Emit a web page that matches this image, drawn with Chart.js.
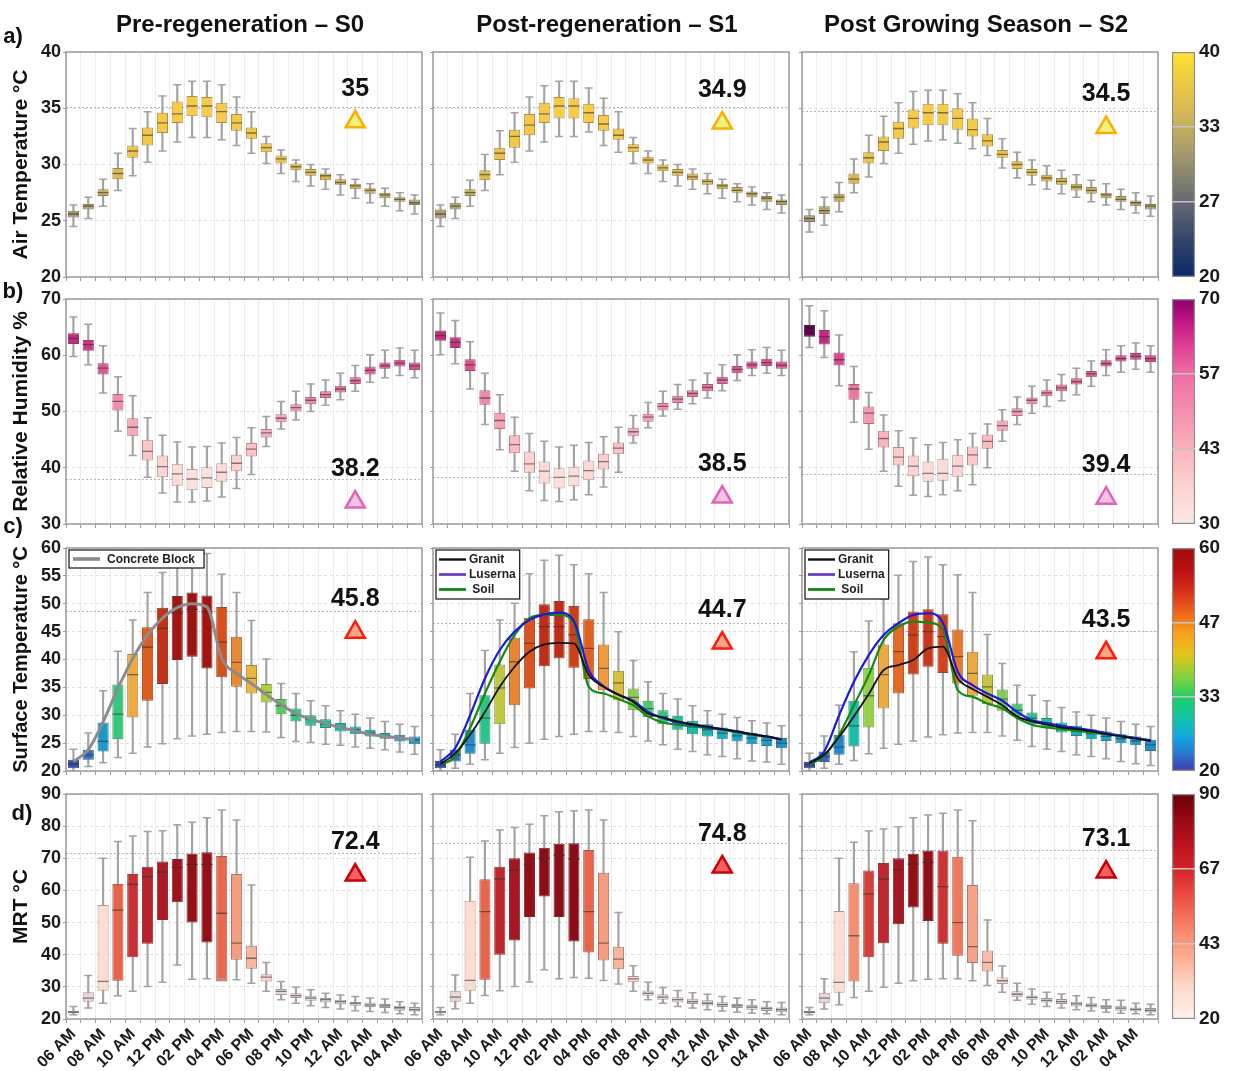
<!DOCTYPE html>
<html>
<head>
<meta charset="utf-8">
<script src="https://cdn.jsdelivr.net/npm/chart.js@4.4.0/dist/chart.umd.min.js"></script>
<style>
  body { margin: 0; background: #fff; width: 1235px; height: 1071px; position: relative; overflow: hidden;
         font-family: 'Liberation Sans', Arial, sans-serif; }
  canvas { position: absolute; }
  .lbl { position: absolute; font-weight: bold; color: #111; white-space: nowrap; transform: translate(-50%, -50%); }
</style>
</head>
<body>
<script>
// ---------- DATA ----------
const HOURS = ['06 AM','07 AM','08 AM','09 AM','10 AM','11 AM','12 PM','01 PM','02 PM','03 PM','04 PM','05 PM',
               '06 PM','07 PM','08 PM','09 PM','10 PM','11 PM','12 AM','01 AM','02 AM','03 AM','04 AM','05 AM'];

// a) air temperature (whisker low, q1, median, q3, whisker high)
const AIR_S0_LO  = [24.5,25.2,26.3,27.7,29.0,30.2,31.2,32.0,32.4,32.4,32.2,31.7,31.0,30.1,29.2,28.5,28.1,27.8,27.3,27.0,26.6,26.3,25.9,25.6];
const AIR_S0_Q1  = [25.3,26.0,27.2,28.7,30.6,31.7,32.8,33.7,34.3,34.2,33.7,33.0,32.3,31.1,30.1,29.5,29.0,28.6,28.2,27.8,27.4,27.0,26.7,26.4];
const AIR_S0_MED = [25.6,26.3,27.5,29.2,31.2,32.6,33.7,34.5,35.2,35.2,34.7,33.7,32.8,31.5,30.5,29.8,29.3,29.0,28.4,28.1,27.7,27.3,26.9,26.6];
const AIR_S0_Q3  = [25.9,26.5,27.8,29.7,31.7,33.3,34.6,35.6,36.1,36.0,35.5,34.5,33.3,31.9,30.8,30.1,29.6,29.2,28.7,28.3,27.9,27.5,27.1,26.9];
const AIR_S0_HI  = [26.4,27.1,28.7,31.0,33.2,34.7,36.1,37.1,37.4,37.4,37.1,36.0,34.7,32.5,31.3,30.4,30.0,29.6,29.1,28.7,28.3,27.9,27.5,27.3];

const AIR_S1_LO  = [24.5,25.2,26.3,27.7,29.1,30.2,31.2,32.0,32.5,32.5,32.9,31.7,31.1,30.1,29.2,28.5,28.1,27.8,27.4,27.0,26.7,26.4,26.0,25.7];
const AIR_S1_Q1  = [25.2,26.0,27.2,28.6,30.4,31.5,32.6,33.7,34.1,34.1,33.7,33.0,32.2,31.1,30.1,29.4,29.0,28.6,28.2,27.8,27.5,27.1,26.7,26.4];
const AIR_S1_MED = [25.6,26.3,27.5,29.1,31.0,32.5,33.5,34.5,35.2,35.2,34.6,33.6,32.6,31.5,30.4,29.7,29.3,28.9,28.5,28.1,27.7,27.4,27.0,26.7];
const AIR_S1_Q3  = [26.0,26.6,27.8,29.5,31.5,33.1,34.5,35.5,36.0,35.9,35.4,34.4,33.2,31.8,30.7,30.0,29.6,29.2,28.7,28.3,28.0,27.6,27.2,26.9];
const AIR_S1_HI  = [26.4,27.1,28.6,30.9,33.0,34.6,36.0,37.0,37.4,37.4,36.8,35.9,34.7,32.4,31.2,30.4,30.0,29.6,29.2,28.7,28.3,28.0,27.5,27.3];

const AIR_S2_LO  = [24.0,24.6,25.8,27.5,28.9,30.1,31.0,31.8,32.1,32.2,31.9,31.4,30.8,29.7,28.8,28.2,27.8,27.4,27.1,26.7,26.4,26.0,25.7,25.4];
const AIR_S2_Q1  = [24.9,25.6,26.7,28.3,30.1,31.2,32.3,33.2,33.5,33.5,33.1,32.5,31.6,30.6,29.6,29.0,28.5,28.2,27.7,27.4,27.0,26.7,26.3,26.0];
const AIR_S2_MED = [25.2,25.9,27.1,28.7,30.6,32.0,33.2,34.1,34.6,34.6,34.1,33.1,32.1,30.9,30.0,29.3,28.8,28.5,28.0,27.7,27.3,26.9,26.6,26.3];
const AIR_S2_Q3  = [25.5,26.3,27.4,29.2,31.1,32.5,33.8,34.9,35.4,35.4,35.0,34.1,32.7,31.3,30.3,29.6,29.1,28.8,28.3,28.0,27.5,27.2,26.8,26.5];
const AIR_S2_HI  = [26.0,27.1,28.4,30.5,32.6,34.3,35.5,36.5,36.6,36.6,36.3,35.5,34.1,32.3,31.1,30.4,29.9,29.5,29.1,28.6,28.3,27.8,27.5,27.2];

// b) relative humidity
const RH_S0_LO  = [59.8,58.3,53.3,46.5,42.2,38.3,35.5,33.9,33.9,34.1,34.8,36.3,38.8,43.8,46.9,48.5,50.0,51.1,52.1,53.6,55.2,56.0,56.4,56.0];
const RH_S0_Q1  = [62.0,60.8,56.6,50.2,45.6,41.3,38.3,36.8,36.0,36.4,37.5,39.4,42.0,45.4,48.1,50.0,51.3,52.4,53.4,54.9,56.6,57.6,58.0,57.4];
const RH_S0_MED = [63.0,61.9,57.7,51.8,47.2,42.9,40.2,38.9,38.0,38.2,39.2,40.8,43.3,46.2,48.8,50.7,52.0,53.0,54.0,55.5,57.3,58.1,58.6,58.1];
const RH_S0_Q3  = [63.9,62.7,58.6,53.1,48.8,45.0,42.2,40.7,39.8,40.1,40.8,42.3,44.4,46.9,49.5,51.3,52.6,53.6,54.6,56.1,58.0,58.7,59.2,58.7];
const RH_S0_HI  = [66.8,65.5,61.7,56.2,52.8,48.9,45.8,44.6,43.7,43.8,44.4,45.4,47.1,49.1,51.8,53.6,54.9,55.6,56.8,58.2,60.1,60.9,61.3,60.9];

const RH_S1_LO  = [60.1,58.5,54.0,47.7,43.2,39.4,35.9,34.2,34.0,34.3,35.2,36.6,39.2,44.4,47.1,49.2,50.4,51.4,52.4,53.7,55.5,56.4,56.8,56.4];
const RH_S1_Q1  = [62.6,61.3,57.2,51.2,46.9,42.6,39.1,37.2,36.3,36.7,37.8,39.7,42.4,45.6,48.2,50.2,51.5,52.6,53.6,54.9,56.8,57.6,58.1,57.6];
const RH_S1_MED = [63.5,62.3,58.3,52.4,48.4,44.1,40.7,39.4,38.3,38.5,39.5,41.1,43.5,46.4,49.0,50.9,52.2,53.2,54.3,55.6,57.5,58.3,58.7,58.2];
const RH_S1_Q3  = [64.4,63.2,59.3,53.8,49.8,45.8,42.9,41.1,39.9,40.2,41.3,42.5,44.5,47.1,49.6,51.5,52.8,53.8,54.9,56.2,58.1,58.9,59.4,58.9];
const RH_S1_HI  = [67.5,66.2,62.4,56.8,53.0,49.0,46.1,44.7,43.7,44.0,44.5,45.5,47.2,49.3,51.6,53.6,54.8,55.6,56.8,58.3,60.1,61.0,61.4,60.9];

const RH_S2_LO  = [61.4,59.6,54.6,48.1,43.3,39.4,36.7,35.1,34.9,35.2,35.9,37.0,40.0,44.7,47.7,49.7,50.9,51.9,53.0,54.5,56.4,57.0,57.5,57.0];
const RH_S2_Q1  = [63.3,61.9,58.2,52.1,47.8,43.6,40.4,38.5,37.5,37.7,38.4,40.4,43.4,46.6,49.2,51.3,52.7,53.6,54.8,56.1,58.0,58.9,59.2,58.8];
const RH_S2_MED = [64.4,63.3,59.2,54.0,49.7,45.2,41.9,40.3,39.0,39.0,40.3,42.3,44.7,47.5,50.0,52.0,53.3,54.2,55.3,56.7,58.5,59.4,59.8,59.4];
const RH_S2_Q3  = [65.4,64.5,60.5,54.9,50.9,46.6,43.7,42.2,41.1,41.6,42.3,43.8,45.9,48.4,50.6,52.5,53.8,54.8,55.9,57.2,59.1,60.0,60.4,60.0];
const RH_S2_HI  = [68.8,67.9,63.6,58.0,53.4,49.4,46.6,45.3,44.1,44.5,45.0,46.1,47.8,50.3,52.6,54.5,55.6,56.6,57.7,59.0,61.0,61.7,62.2,61.7];

// c) surface temperature
const SURF_S0_LO  = [20.0,20.8,21.5,22.4,23.2,24.3,24.9,25.8,26.3,26.6,26.9,27.1,27.1,27.0,26.0,25.3,25.1,24.8,24.6,24.3,24.1,23.8,23.4,23.0];
const SURF_S0_Q1  = [20.5,22.0,23.5,25.7,29.6,32.6,35.6,39.9,40.5,38.4,36.8,35.1,33.9,32.3,30.2,28.9,28.1,27.7,27.1,26.6,26.2,25.8,25.3,24.8];
const SURF_S0_MED = [21.3,22.9,25.3,30.2,37.3,42.2,45.6,48.3,49.0,48.6,43.1,39.5,36.6,34.1,31.7,30.0,29.2,28.4,27.8,27.4,26.8,26.3,25.9,25.6];
const SURF_S0_Q3  = [22.0,23.8,28.7,35.5,41.0,45.8,49.3,51.4,52.0,51.5,49.4,44.1,39.0,35.6,32.9,31.2,30.0,29.3,28.6,28.0,27.4,26.8,26.5,26.2];
const SURF_S0_HI  = [23.9,26.8,34.4,41.5,47.1,52.0,55.6,58.7,59.5,59.0,55.3,52.0,47.0,40.1,35.7,33.9,32.6,31.7,30.8,30.2,29.5,28.9,28.4,28.0];

const SURF_S1_LO  = [20.0,20.5,21.2,22.0,23.2,24.2,25.0,25.7,26.2,26.6,27.1,27.1,26.9,26.2,25.4,24.7,23.9,23.5,22.9,22.6,22.2,21.8,21.6,21.2];
const SURF_S1_Q1  = [20.5,21.7,23.1,24.9,28.4,31.8,34.8,38.8,40.2,38.5,36.5,34.5,32.7,30.9,29.7,28.4,27.4,26.6,26.2,25.7,25.3,24.8,24.5,24.1];
const SURF_S1_MED = [21.1,22.9,24.7,29.5,34.9,39.6,42.9,45.9,45.9,44.4,42.0,38.4,35.8,33.2,31.2,29.7,28.7,27.9,27.4,26.8,26.3,25.9,25.5,25.0];
const SURF_S1_Q3  = [21.8,23.8,27.4,33.6,39.1,43.9,47.5,49.9,50.5,49.6,47.2,42.7,38.0,34.8,32.6,30.9,29.9,29.0,28.4,27.8,27.2,26.8,26.3,25.9];
const SURF_S1_HI  = [23.8,26.6,33.9,41.6,47.1,50.1,55.4,57.8,58.7,57.0,55.4,52.0,45.0,39.8,36.0,33.9,32.9,31.7,30.8,30.2,29.6,29.0,28.6,28.1];

const SURF_S2_LO  = [20.0,20.5,21.2,21.9,23.1,24.1,24.8,25.4,26.1,26.5,26.8,26.9,26.9,26.3,25.5,24.4,23.9,23.5,22.9,22.6,22.2,21.7,21.3,21.0];
const SURF_S2_Q1  = [20.5,21.6,22.9,24.4,27.8,31.2,33.9,37.3,38.7,37.6,35.7,33.5,32.0,30.8,29.8,28.4,27.7,26.9,26.3,25.7,25.4,25.0,24.6,23.6];
const SURF_S2_MED = [21.1,22.6,24.3,28.1,33.5,37.3,41.4,44.4,45.0,44.1,40.5,37.5,35.1,32.9,30.9,29.5,28.6,27.8,27.1,26.7,26.2,25.8,25.4,24.7];
const SURF_S2_Q3  = [21.6,23.5,26.5,32.6,38.5,42.7,46.5,48.6,49.0,48.1,45.4,41.4,37.3,34.6,32.1,30.5,29.5,28.7,28.1,27.5,27.1,26.6,26.2,25.6];
const SURF_S2_HI  = [23.2,26.3,31.8,41.4,46.9,50.8,55.1,57.6,58.4,57.0,55.2,52.0,44.5,39.3,35.4,33.6,32.6,31.4,30.6,30.0,29.5,28.9,28.4,28.0];

// c) material surface temperature curves
const CONCRETE_S0 = [21.7,23.8,28.8,34.8,40.2,44.4,47.4,49.3,50.0,49.4,40.2,37.5,35.7,33.7,31.9,30.3,29.3,28.5,27.8,27.2,26.6,26.2,25.9,25.6];
const GRANIT_S1   = [21.2,23.2,26.5,30.6,35.1,38.7,41.4,42.7,43.0,42.9,37.2,35.1,33.7,32.4,30.3,29.6,28.9,28.4,28.0,27.5,27.1,26.6,26.2,25.6];
const LUSERNA_S1  = [21.7,24.1,30.0,36.6,41.7,45.0,47.1,48.1,48.4,46.9,38.1,35.2,33.7,32.6,30.6,29.5,28.7,28.3,27.8,27.5,27.1,26.6,26.2,25.7];
const SOIL_S1     = [21.1,22.6,27.7,33.9,39.6,44.4,47.4,48.0,48.0,46.5,35.1,33.9,32.9,31.8,29.8,28.7,28.3,28.0,27.7,27.4,26.9,26.5,26.1,25.7];
const GRANIT_S2   = [21.4,22.9,26.1,29.8,33.8,38.1,39.0,39.9,42.0,42.3,36.6,34.7,33.3,31.8,29.8,28.9,28.3,27.8,27.5,27.1,26.6,26.2,25.8,25.4];
const LUSERNA_S2  = [21.5,23.5,30.0,36.0,40.8,44.4,46.5,48.0,48.3,46.6,37.8,35.4,33.9,32.6,30.6,29.1,28.6,28.1,27.7,27.3,26.8,26.3,25.9,25.5];
const SOIL_S2     = [21.1,22.7,26.5,31.8,37.2,43.5,45.9,46.8,46.6,45.4,34.5,33.3,32.1,31.2,29.5,28.3,27.8,27.5,27.2,26.9,26.6,26.3,25.9,25.5];

// d) mean radiant temperature
const MRT_S0_LO  = [21.3,23.4,24.9,27.2,28.6,30.1,31.4,36.8,32.4,32.5,32.5,32.2,31.1,28.6,26.0,24.9,24.1,23.6,23.1,22.6,22.3,22.0,21.6,21.3];
const MRT_S0_Q1  = [21.8,25.4,28.8,31.9,39.2,43.4,50.8,56.3,50.0,43.8,31.7,38.4,35.6,31.7,27.5,26.5,25.7,25.1,24.6,24.1,23.7,23.4,22.6,22.3];
const MRT_S0_MED = [22.1,26.5,31.7,53.9,61.9,64.3,65.7,67.2,68.1,68.1,52.9,43.6,38.9,33.0,28.6,27.3,26.5,26.0,25.4,24.9,24.4,24.1,23.5,22.9];
const MRT_S0_Q3  = [22.5,28.3,55.5,62.0,65.1,67.4,69.0,69.8,71.4,71.9,70.7,65.1,42.8,33.9,29.3,28.0,27.2,26.5,26.0,25.4,25.1,24.7,24.1,23.7];
const MRT_S0_HI  = [23.9,33.5,70.0,75.2,76.9,78.3,78.6,80.4,81.2,82.6,85.0,81.9,61.7,37.6,31.7,29.9,29.1,28.0,27.5,27.0,26.5,26.2,25.4,24.9];

const MRT_S1_LO  = [21.3,23.2,24.9,27.3,28.8,30.1,31.5,35.3,32.5,32.9,32.7,32.0,30.9,28.6,26.0,24.9,23.9,23.4,22.9,22.5,22.1,21.8,21.6,21.3];
const MRT_S1_Q1  = [21.8,25.4,28.8,32.2,40.0,44.4,51.7,58.1,51.7,44.1,40.7,38.2,35.5,31.4,27.2,26.0,25.1,24.7,24.2,23.7,23.4,22.9,22.5,22.1];
const MRT_S1_MED = [22.2,26.8,32.0,53.4,63.6,66.4,68.2,70.0,71.0,69.8,53.4,43.6,38.6,32.5,28.0,26.8,26.0,25.4,24.9,24.5,24.1,23.7,23.3,22.9];
const MRT_S1_Q3  = [22.6,28.8,56.8,63.5,67.4,70.0,71.8,73.3,74.5,74.7,72.6,65.5,42.5,33.4,28.9,27.7,26.8,26.3,25.8,25.2,24.7,24.4,23.9,23.6];
const MRT_S1_HI  = [23.6,33.7,70.3,75.4,78.8,79.6,80.6,83.2,84.5,84.8,85.0,81.9,53.1,36.6,31.4,29.8,28.9,28.2,27.7,27.0,26.5,26.0,25.4,25.1];

const MRT_S2_LO  = [21.3,23.1,24.4,26.7,28.6,29.9,31.1,31.9,32.4,32.5,32.5,31.9,30.4,28.3,25.8,24.6,23.9,23.4,22.9,22.5,22.1,21.8,21.6,21.3];
const MRT_S2_Q1  = [21.8,24.9,28.2,31.7,39.2,43.6,49.5,54.7,50.5,43.4,39.7,37.4,34.8,30.9,26.8,26.0,25.1,24.7,23.9,23.6,23.1,22.6,22.3,22.0];
const MRT_S2_MED = [22.1,26.5,31.4,45.9,58.9,63.5,66.4,68.2,68.7,61.2,50.0,42.5,37.6,31.9,27.7,26.7,25.8,25.4,24.7,24.2,23.8,23.4,23.0,22.7];
const MRT_S2_Q3  = [22.5,28.2,53.6,62.2,66.2,68.5,70.0,71.4,72.4,72.4,70.5,61.7,41.3,32.9,28.6,27.3,26.5,26.2,25.4,24.9,24.4,24.1,23.6,23.4];
const MRT_S2_HI  = [23.6,32.5,70.0,75.0,78.5,79.1,79.8,82.6,83.5,84.0,85.0,81.7,50.8,36.5,31.1,29.3,28.3,27.8,27.2,26.7,26.0,25.8,24.9,24.6];

// peak annotations (rows a..d, columns S0..S2)
const PEAK_TEXT = [['35','34.9','34.5'], ['38.2','38.5','39.4'], ['45.8','44.7','43.5'], ['72.4','74.8','73.1']];
const PEAK_LINE = [[35.15,35.1,34.75], [38.05,38.3,38.9], [48.65,46.55,45.05], [71.55,74.66,72.59]];
const MARK_HOUR = ['01 AM','01 AM','02 AM'];
const MARK_Y    = [[33.8,33.7,33.3], [33.9,34.8,34.6], [44.9,42.95,41.2], [64.8,67.3,65.7]];

// colour bar tick values (labels are rounded)
const CB_TICKS = [[20,26.67,33.33,40], [30,43.33,56.67,70], [20,33.33,46.67,60], [20,43.33,66.67,90]];

const COL_TITLES = ['Pre-regeneration – S0', 'Post-regeneration – S1', 'Post Growing Season – S2'];
const ROW_TITLES = ['Air Temperature °C', 'Relative Humidity %', 'Surface Temperature °C', 'MRT °C'];
const ROW_LETTERS = ['a)', 'b)', 'c)', 'd)'];

// ---------- STYLE / LAYOUT ----------
const FONT = "'Liberation Sans', Arial, sans-serif";
Chart.defaults.font.family = FONT;

const COL_X = [66, 433, 802];
const ROW_Y = [52, 299, 548, 794];
const ROW_H = [225, 225, 223, 225];
const TITLE_SIZE = [21, 21, 20, 21];
const PLOT_W = 356;
const CB_X = 1172, CB_W = 23;
const PAD_T = 18, PAD_R = 4;

const ROWS = [
  { min: 20, max: 40, step: 5,
    box: [[25,'#a89c74'],[26.5,'#b8a468'],[28,'#d0b255'],[30,'#e8c04a'],[33,'#f5c845'],[36,'#f8cc48']],
    bar: [[20,'#0b2a6b'],[23,'#2f416a'],[26,'#5d6172'],[28,'#78786f'],[31,'#a39a6c'],[34,'#cdb45a'],[37,'#ecc846'],[40,'#ffe030']],
    tri: ['#eef281', '#ffac00'] },
  { min: 30, max: 70, step: 10,
    box: [[38,'#fde2dc'],[40,'#fdd6d2'],[43,'#fcc4c6'],[47,'#f9a9b9'],[51.5,'#f38fac'],[54,'#eb76a0'],[57.5,'#df5694'],[61,'#d43c88'],[63.6,'#c02878'],[64.3,'#600048']],
    bar: [[30,'#fde8e2'],[36,'#fcd6d2'],[43,'#fbb4bd'],[50,'#f68fae'],[57,'#ee6aa2'],[62,'#dd3d93'],[66,'#c01683'],[70,'#8c0070']],
    tri: ['#f2c6e2', '#e065b8'] },
  { min: 20, max: 60, step: 5,
    box: [[21,'#3848a8'],[23,'#2f6fc8'],[25.5,'#1a9ccc'],[27,'#18b0c0'],[28.5,'#1cc0a0'],[30,'#30c880'],[32,'#60cc60'],[34,'#a8d040'],[36.5,'#e8b840'],[38,'#f0a040'],[40,'#e88030'],[42,'#e06020'],[45,'#c83818'],[48,'#a81810'],[50,'#901010']],
    bar: [[20,'#3d3ea8'],[23,'#2a74d0'],[26,'#14a5e0'],[29,'#10c2b0'],[33,'#1ecf6a'],[37,'#86d33a'],[41,'#e6c41c'],[45,'#f99d1c'],[48,'#f06c1a'],[52,'#d8321a'],[56,'#bd0f10'],[60,'#9c0c0c']],
    tri: ['#f8a68a', '#ff1a0a'] },
  { min: 20, max: 90, step: 10,
    box: [[22,'#d4ccd0'],[26,'#e8d6d6'],[29,'#ecd8d6'],[31,'#fde0d6'],[34,'#fcd0c0'],[39,'#f9b49c'],[44,'#f69a7c'],[50,'#ee7a5e'],[54,'#e66248'],[60,'#d03a38'],[63,'#c42a30'],[66,'#aa1824'],[68,'#941018'],[70,'#8c0c18']],
    bar: [[20,'#fff2ee'],[30,'#fdd9ca'],[40,'#fcaa8e'],[50,'#f77b60'],[60,'#e8453a'],[67,'#d42328'],[75,'#b8101e'],[82,'#960a14'],[90,'#6a0008']],
    tri: ['#f56060', '#c8000a'] }
];

const PANELS = [
  [[AIR_S0_LO,AIR_S0_Q1,AIR_S0_MED,AIR_S0_Q3,AIR_S0_HI], [AIR_S1_LO,AIR_S1_Q1,AIR_S1_MED,AIR_S1_Q3,AIR_S1_HI], [AIR_S2_LO,AIR_S2_Q1,AIR_S2_MED,AIR_S2_Q3,AIR_S2_HI]],
  [[RH_S0_LO,RH_S0_Q1,RH_S0_MED,RH_S0_Q3,RH_S0_HI], [RH_S1_LO,RH_S1_Q1,RH_S1_MED,RH_S1_Q3,RH_S1_HI], [RH_S2_LO,RH_S2_Q1,RH_S2_MED,RH_S2_Q3,RH_S2_HI]],
  [[SURF_S0_LO,SURF_S0_Q1,SURF_S0_MED,SURF_S0_Q3,SURF_S0_HI], [SURF_S1_LO,SURF_S1_Q1,SURF_S1_MED,SURF_S1_Q3,SURF_S1_HI], [SURF_S2_LO,SURF_S2_Q1,SURF_S2_MED,SURF_S2_Q3,SURF_S2_HI]],
  [[MRT_S0_LO,MRT_S0_Q1,MRT_S0_MED,MRT_S0_Q3,MRT_S0_HI], [MRT_S1_LO,MRT_S1_Q1,MRT_S1_MED,MRT_S1_Q3,MRT_S1_HI], [MRT_S2_LO,MRT_S2_Q1,MRT_S2_MED,MRT_S2_Q3,MRT_S2_HI]]
];

// surface temperature curves per column (row c only)
const CURVES = [
  [{ label: 'Concrete Block', data: CONCRETE_S0, color: '#8c8c8c', key: '#8c8c8c', width: 3 }],
  [{ label: 'Granit', data: GRANIT_S1, color: '#111111', key: '#111111', width: 1.8 },
   { label: 'Luserna', data: LUSERNA_S1, color: '#1a1adc', key: '#6a3fbf', width: 2.2 },
   { label: ' Soil', data: SOIL_S1, color: '#138a13', key: '#138a13', width: 2.2 }],
  [{ label: 'Granit', data: GRANIT_S2, color: '#111111', key: '#111111', width: 1.8 },
   { label: 'Luserna', data: LUSERNA_S2, color: '#1a1adc', key: '#6a3fbf', width: 2.2 },
   { label: ' Soil', data: SOIL_S2, color: '#138a13', key: '#138a13', width: 2.2 }]
];

// ---------- HELPERS ----------
function hexToRgb(h) { const n = parseInt(h.slice(1), 16); return [(n >> 16) & 255, (n >> 8) & 255, n & 255]; }
function mixRgb(a, b, t) { return a.map((v, i) => Math.round(v + (b[i] - v) * t)); }
function rgbStr(c) { return `rgb(${c[0]},${c[1]},${c[2]})`; }
function mapColor(stops, v) {
  if (v <= stops[0][0]) return hexToRgb(stops[0][1]);
  for (let i = 1; i < stops.length; i++) {
    if (v <= stops[i][0]) {
      const t = (v - stops[i - 1][0]) / (stops[i][0] - stops[i - 1][0]);
      return mixRgb(hexToRgb(stops[i - 1][1]), hexToRgb(stops[i][1]), t);
    }
  }
  return hexToRgb(stops[stops.length - 1][1]);
}

function addCanvas(x, y, w, h) {
  const cv = document.createElement('canvas');
  cv.width = w; cv.height = h;
  cv.style.cssText = `left:${x}px;top:${y}px;width:${w}px;height:${h}px`;
  document.body.appendChild(cv);
  return cv;
}

function addLabel(text, x, y, size) {
  const d = document.createElement('div');
  d.className = 'lbl';
  d.textContent = text;
  d.style.cssText = `left:${x}px;top:${y}px;font-size:${size}px`;
  document.body.appendChild(d);
}

// frame, dotted peak line, peak value text and the in-plot legend
const decor = {
  id: 'decor',
  beforeDatasetsDraw(chart, args, o) {
    const { ctx, chartArea: a, scales: { y } } = chart;
    const py = Math.round(y.getPixelForValue(o.refLine)) + 0.5;
    ctx.save();
    ctx.strokeStyle = '#b4b4b4'; ctx.lineWidth = 1; ctx.setLineDash([2, 2]);
    ctx.beginPath(); ctx.moveTo(a.left, py); ctx.lineTo(a.right, py); ctx.stroke();
    ctx.restore();
  },
  afterDatasetsDraw(chart, args, o) {
    const { ctx, chartArea: a } = chart;
    ctx.save();
    ctx.strokeStyle = '#9b9b9b'; ctx.lineWidth = 1.5;
    ctx.strokeRect(a.left, a.top, a.right - a.left, a.bottom - a.top);

    const pt = chart.getDatasetMeta(o.markIndex).data[0];
    ctx.fillStyle = '#111'; ctx.font = 'bold 25px ' + FONT;
    ctx.textAlign = 'center'; ctx.textBaseline = 'middle';
    ctx.fillText(o.peakText, pt.x, pt.y - 33);

    const L = o.legend;
    if (L) {
      ctx.font = L.font;
      const tw = Math.max(...L.items.map(it => ctx.measureText(it.label).width));
      const bx = a.left + 3, by = a.top + 2;
      const bw = L.padL + L.sample + L.gap + tw + L.padR;
      const bh = L.items.length * L.rowH + 4;
      ctx.fillStyle = '#fff'; ctx.fillRect(bx, by, bw, bh);
      ctx.strokeStyle = '#222'; ctx.lineWidth = 1.3; ctx.strokeRect(bx, by, bw, bh);
      L.items.forEach((it, i) => {
        const cy = by + 2 + L.rowH * (i + 0.5);
        ctx.strokeStyle = it.key; ctx.lineWidth = it.width + 0.6;
        ctx.beginPath(); ctx.moveTo(bx + L.padL, cy); ctx.lineTo(bx + L.padL + L.sample, cy); ctx.stroke();
        ctx.fillStyle = '#222'; ctx.textAlign = 'left'; ctx.textBaseline = 'middle';
        ctx.fillText(it.label, bx + L.padL + L.sample + L.gap, cy + 0.5);
      });
    }
    ctx.restore();
  }
};

// ---------- PANELS ----------
function makePanel(r, c) {
  const R = ROWS[r];
  const [lo, q1, med, q3, hi] = PANELS[r][c];
  const padL = c === 0 ? 66 : 48;
  const padB = r === 3 ? 56 : 20;
  const w = PLOT_W + padL + PAD_R, h = ROW_H[r] + PAD_T + padB;
  const cv = addCanvas(COL_X[c] - padL, ROW_Y[r] - PAD_T, w, h);

  const fills = med.map(v => mapColor(R.box, v));
  const edge = fills.map(f => rgbStr(mixRgb(f, [74, 74, 74], 0.45)));
  const mline = fills.map(f => rgbStr(mixRgb(f, [50, 50, 50], 0.6)));
  const whisk = '#a3a3a3';

  const datasets = [
    { type: 'bar', data: lo.map((v, i) => [v, hi[i]]), backgroundColor: whisk, borderWidth: 0,
      barThickness: 1.5, grouped: false, order: 6 },
    { type: 'bar', data: q1.map((v, i) => [v, q3[i]]), backgroundColor: fills.map(rgbStr), borderColor: edge,
      borderWidth: 1, borderSkipped: false, barPercentage: 0.75, categoryPercentage: 1, grouped: false, order: 5 },
    { type: 'line', data: hi, showLine: false, pointStyle: 'line', pointRadius: 4, pointBorderColor: whisk, pointBorderWidth: 1.5, order: 4 },
    { type: 'line', data: lo, showLine: false, pointStyle: 'line', pointRadius: 4, pointBorderColor: whisk, pointBorderWidth: 1.5, order: 4 },
    { type: 'line', data: med, showLine: false, pointStyle: 'line', pointRadius: 5.5, pointBorderColor: mline, pointBorderWidth: 1.3, order: 3 }
  ];

  let legend = null;
  if (r === 2) {
    CURVES[c].forEach(cu => datasets.push({
      type: 'line', label: cu.label, data: cu.data, borderColor: cu.color, borderWidth: cu.width,
      pointRadius: 0, cubicInterpolationMode: 'monotone', fill: false, order: 2
    }));
    legend = c === 0
      ? { items: CURVES[c], font: 'bold 12px ' + FONT, padL: 4, sample: 27, gap: 7, padR: 9, rowH: 14 }
      : { items: CURVES[c], font: 'bold 12px ' + FONT, padL: 3, sample: 27, gap: 3, padR: 4, rowH: 15 };
  }

  datasets.push({
    type: 'line', data: [{ x: MARK_HOUR[c], y: MARK_Y[r][c] }], showLine: false, pointStyle: 'triangle',
    pointRadius: 11, pointBackgroundColor: R.tri[0], pointBorderColor: R.tri[1], pointBorderWidth: 2.5, order: 1
  });
  const markIndex = datasets.length - 1;

  new Chart(cv, {
    type: 'bar',
    data: { labels: HOURS, datasets },
    plugins: [decor],
    options: {
      responsive: false, animation: false, events: [],
      layout: { autoPadding: false, padding: { top: PAD_T, right: PAD_R, left: 0, bottom: 0 } },
      plugins: {
        legend: { display: false }, tooltip: { enabled: false },
        decor: { refLine: PEAK_LINE[r][c], peakText: PEAK_TEXT[r][c], markIndex, legend }
      },
      scales: {
        x: {
          offset: true,
          grid: { offset: true, color: '#ececec', tickLength: 4, tickColor: '#9b9b9b' },
          border: { display: false },
          ticks: {
            display: r === 3, autoSkip: false, minRotation: 45, maxRotation: 45, padding: 2,
            color: '#1a1a1a', font: { size: 16, weight: 'bold' },
            callback: (v, i) => (i % 2 === 0 ? HOURS[i] : '')
          },
          afterFit: s => { s.height = padB; s.paddingLeft = 0; s.paddingRight = 0; }
        },
        y: {
          min: R.min, max: R.max,
          ticks: { stepSize: R.step, display: c === 0, padding: 2, color: '#1a1a1a', font: { size: 18, weight: 'bold' } },
          grid: { color: '#dedede', tickLength: 3, tickColor: '#9b9b9b' },
          border: { display: false, dash: [3, 3] },
          title: { display: c === 0, text: ROW_TITLES[r], color: '#111', font: { size: TITLE_SIZE[r], weight: 'bold' },
                   padding: { top: 9, bottom: 0 } },
          afterFit: s => { s.width = padL; s.paddingTop = 0; s.paddingBottom = 0; }
        }
      }
    }
  });
}

// ---------- COLOUR BARS ----------
function makeColorBar(r) {
  const R = ROWS[r];
  const axisW = 42;
  const w = CB_W + axisW, h = ROW_H[r] + PAD_T * 2;
  const cv = addCanvas(CB_X, ROW_Y[r] - PAD_T, w, h);
  new Chart(cv, {
    type: 'bar',
    data: {
      labels: [''],
      datasets: [{
        data: [[R.min, R.max]],
        backgroundColor(ctx) {
          const ch = ctx.chart;
          if (!ch.chartArea) return '#ccc';
          const ys = ch.scales.y;
          const g = ch.ctx.createLinearGradient(0, ys.getPixelForValue(R.min), 0, ys.getPixelForValue(R.max));
          R.bar.forEach(([v, col]) => g.addColorStop((v - R.min) / (R.max - R.min), col));
          return g;
        },
        borderColor: '#8c8c8c', borderWidth: 1.5, borderSkipped: false,
        barPercentage: 1, categoryPercentage: 1
      }]
    },
    options: {
      responsive: false, animation: false, events: [],
      layout: { autoPadding: false, padding: { top: PAD_T, bottom: PAD_T, left: 0, right: 0 } },
      plugins: { legend: { display: false }, tooltip: { enabled: false } },
      scales: {
        x: { display: false },
        y: {
          position: 'right', min: R.min, max: R.max,
          afterBuildTicks: s => { s.ticks = CB_TICKS[r].map(v => ({ value: v })); },
          ticks: { padding: 4, color: '#1a1a1a', font: { size: 19, weight: 'bold' }, callback: v => Math.round(v) },
          grid: { drawTicks: false, z: 1, lineWidth: 1.5,
                  color: ctx => (ctx.index === 1 || ctx.index === 2 ? '#c4c4c4' : 'rgba(0,0,0,0)') },
          border: { display: false },
          afterFit: s => { s.width = axisW; s.paddingTop = 0; s.paddingBottom = 0; }
        }
      }
    }
  });
}

// ---------- BUILD ----------
for (let r = 0; r < 4; r++) {
  for (let c = 0; c < 3; c++) makePanel(r, c);
  makeColorBar(r);
}

COL_TITLES.forEach((t, c) => addLabel(t, COL_X[c] + PLOT_W / 2 - 4, 24, 24));
[[13, 36], [13, 291], [13, 526], [22, 813]].forEach(([x, y], r) => addLabel(ROW_LETTERS[r], x, y, 22));
</script>
</body>
</html>
